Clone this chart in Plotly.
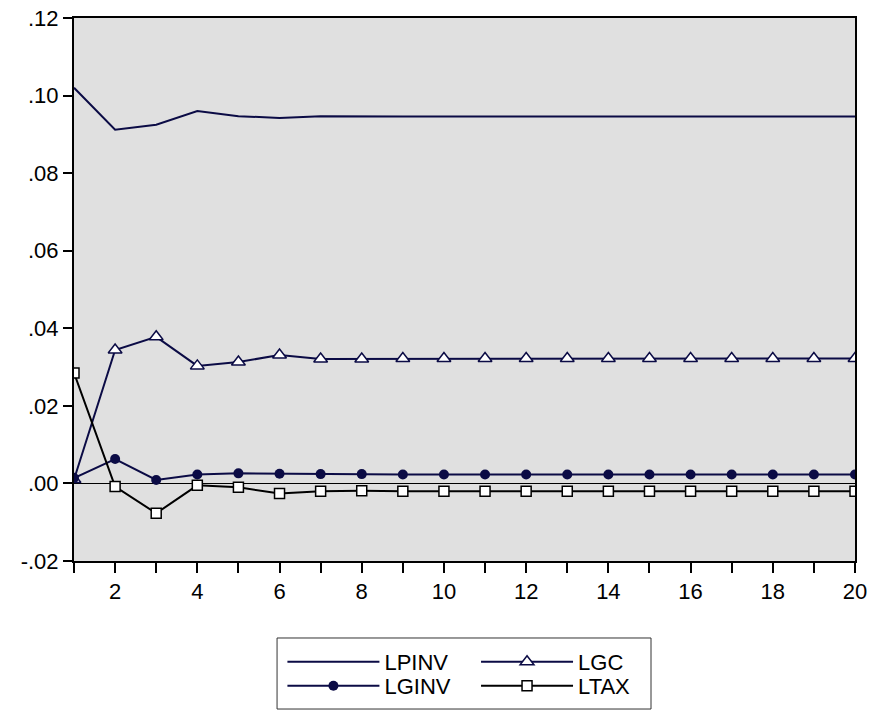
import plotly.graph_objects as go

periods = list(range(1, 21))
lpinv = [0.1020, 0.0912, 0.0925, 0.0960, 0.0947, 0.0942, 0.0947, 0.0946, 0.0946, 0.0946,
         0.0946, 0.0946, 0.0946, 0.0946, 0.0946, 0.0946, 0.0946, 0.0946, 0.0946, 0.0946]
lgc = [0.0010, 0.0344, 0.0378, 0.0303, 0.0313, 0.0331, 0.0321, 0.0321, 0.0322, 0.0322,
       0.0322, 0.0322, 0.0322, 0.0322, 0.0322, 0.0322, 0.0322, 0.0322, 0.0322, 0.0322]
lginv = [0.0014, 0.0063, 0.0009, 0.0023, 0.0026, 0.0025, 0.0024, 0.0024, 0.0023, 0.0023,
         0.0023, 0.0023, 0.0023, 0.0023, 0.0023, 0.0023, 0.0023, 0.0023, 0.0023, 0.0023]
ltax = [0.0285, -0.0008, -0.0077, -0.0005, -0.0010, -0.0026, -0.0020, -0.0019, -0.0020, -0.0020,
        -0.0020, -0.0020, -0.0020, -0.0020, -0.0020, -0.0020, -0.0020, -0.0020, -0.0020, -0.0020]

y_tickvals = [-0.02, 0.0, 0.02, 0.04, 0.06, 0.08, 0.10, 0.12]
y_ticktext = ["-.02", ".00", ".02", ".04", ".06", ".08", ".10", ".12"]
x_ticktext = [str(p) if p % 2 == 0 else "" for p in periods]

NAVY = "#0b0b45"
FONT = "Liberation Sans, Arial, sans-serif"
FS = 22

fig = go.Figure()
fig.add_trace(go.Scatter(x=periods, y=lpinv, name="LPINV", mode="lines",
                         line=dict(color=NAVY, width=2), legend="legend"))
fig.add_trace(go.Scatter(x=periods, y=lgc, name="LGC", mode="lines+markers",
                         line=dict(color=NAVY, width=2),
                         marker=dict(symbol="triangle-up", size=12, color="white",
                                     line=dict(color=NAVY, width=1.5)), legend="legend2"))
fig.add_trace(go.Scatter(x=periods, y=lginv, name="LGINV", mode="lines+markers",
                         line=dict(color=NAVY, width=2),
                         marker=dict(symbol="circle", size=10, color=NAVY), legend="legend3"))
fig.add_trace(go.Scatter(x=periods, y=ltax, name="LTAX", mode="lines+markers",
                         line=dict(color="black", width=2),
                         marker=dict(symbol="square", size=10, color="white",
                                     line=dict(color="black", width=1.5)), legend="legend4"))

def leg(x, y):
    return dict(orientation="v", xref="container", yref="container", x=x, y=y,
                xanchor="left", yanchor="middle",
                bgcolor="rgba(0,0,0,0)", borderwidth=0, itemwidth=92,
                font=dict(family=FONT, size=FS, color="black"), itemclick=False)

col1, col2 = 0.3250, 0.5478
row1, row2 = 0.0689, 0.0352

fig.update_layout(
    width=869, height=711,
    margin=dict(l=74, r=14, t=18, b=150, autoexpand=False),
    paper_bgcolor="white", plot_bgcolor="#e0e0e0",
    font=dict(family=FONT, size=FS, color="black"),
    showlegend=True,
    legend=leg(col1, row1),
    legend2=leg(col2, row1),
    legend3=leg(col1, row2),
    legend4=leg(col2, row2),
    xaxis=dict(range=[1, 20], tickvals=periods, ticktext=x_ticktext, ticks="outside",
               ticklen=10, tickwidth=1.5, tickcolor="black", showgrid=False, zeroline=False,
               showline=True, linecolor="black", linewidth=2, mirror=True, automargin=False,
               ticklabeloverflow="allow",
               tickfont=dict(family=FONT, size=FS, color="black")),
    yaxis=dict(range=[-0.02, 0.12], tickvals=y_tickvals, ticktext=y_ticktext, ticks="outside",
               ticklen=9, tickwidth=1.5, tickcolor="black", showgrid=False, zeroline=True,
               zerolinecolor="black", zerolinewidth=1, automargin=False,
               ticklabeloverflow="allow",
               showline=True, linecolor="black", linewidth=2, mirror=True,
               tickfont=dict(family=FONT, size=FS, color="black")),
    shapes=[dict(type="rect", xref="paper", yref="paper", x0=0.26, x1=0.7388, y0=-0.2726, y1=-0.1418,
                 line=dict(color="#333333", width=1), fillcolor="rgba(0,0,0,0)", layer="above")],
)

fig.write_html("out.html", config={"displayModeBar": False},
               post_script="document.body.style.margin='0';document.body.style.overflow='hidden';")
